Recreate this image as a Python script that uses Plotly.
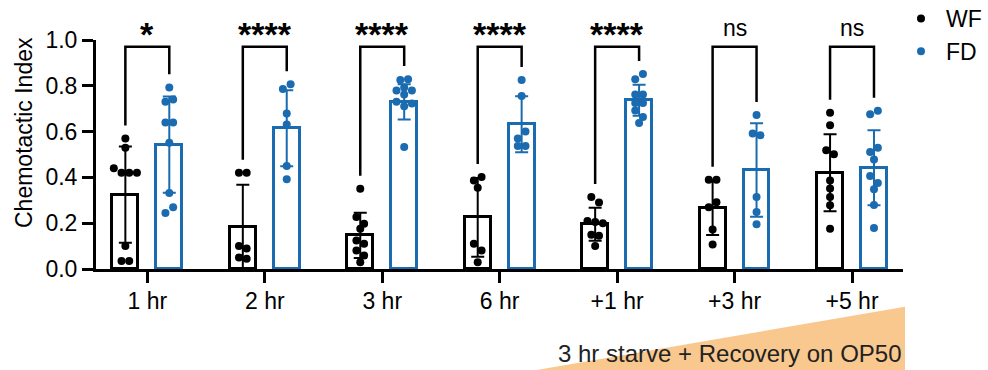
import plotly.graph_objects as go

# ---- data -------------------------------------------------------------
categories = ["1 hr", "2 hr", "3 hr", "6 hr", "+1 hr", "+3 hr", "+5 hr"]
sig_labels = ["*", "****", "****", "****", "****", "ns", "ns"]

wf_mean = [0.325, 0.184, 0.147, 0.225, 0.195, 0.268, 0.420]
wf_sd = [0.210, 0.184, 0.099, 0.172, 0.072, 0.120, 0.168]
fd_mean = [0.543, 0.615, 0.730, 0.632, 0.737, 0.432, 0.442]
fd_sd = [0.210, 0.166, 0.077, 0.122, 0.068, 0.204, 0.164]

wf_points = [
    [0.57, 0.53, 0.44, 0.42, 0.42, 0.42, 0.10, 0.035, 0.035],
    [0.42, 0.42, 0.10, 0.09, 0.05, 0.045],
    [0.35, 0.227, 0.198, 0.176, 0.125, 0.11, 0.081, 0.059, 0.03],
    [0.387, 0.402, 0.355, 0.11, 0.081, 0.03],
    [0.314, 0.29, 0.21, 0.205, 0.20, 0.15, 0.145, 0.10],
    [0.39, 0.39, 0.27, 0.292, 0.172, 0.107],
    [0.682, 0.628, 0.519, 0.501, 0.387, 0.351, 0.314, 0.278, 0.176],
]
fd_points = [
    [0.793, 0.73, 0.74, 0.64, 0.64, 0.551, 0.332, 0.244, 0.27],
    [0.786, 0.807, 0.679, 0.631, 0.45, 0.392],
    [0.825, 0.829, 0.78, 0.793, 0.78, 0.762, 0.73, 0.711, 0.723, 0.533],
    [0.825, 0.755, 0.57, 0.60, 0.537, 0.537],
    [0.829, 0.851, 0.762, 0.762, 0.725, 0.725, 0.692, 0.664, 0.638],
    [0.672, 0.592, 0.584, 0.314, 0.249, 0.195],
    [0.676, 0.691, 0.511, 0.529, 0.478, 0.406, 0.376, 0.348, 0.28, 0.179],
]

ramp_text = "3 hr starve + Recovery on OP50"

# ---- layout constants -------------------------------------------------
W, H = 988, 370
MARGIN = dict(l=96, r=85, t=40, b=101, autoexpand=False)
X_RANGE = [-0.437, 6.434]
Y_RANGE = [0.0, 1.0]
PLOT_W = W - MARGIN["l"] - MARGIN["r"]
PLOT_H = H - MARGIN["t"] - MARGIN["b"]
PX_PER_X = PLOT_W / (X_RANGE[1] - X_RANGE[0])
PX_PER_Y = PLOT_H / (Y_RANGE[1] - Y_RANGE[0])

BLACK = "#000000"
BLUE = "#1a6bb0"
ORANGE = "#f9c88e"
FONT = "Liberation Sans, Arial, sans-serif"
FS = 23

BAR_OFFSET = 0.187
BAR_WIDTH = 0.22
DOT_PX = 7.7
ROW_PX = 7.0


def px_to_paper_x(px):
    return (px - MARGIN["l"]) / PLOT_W


def px_to_paper_y(py):
    return (H - MARGIN["b"] - py) / PLOT_H


def swarm(values, center):
    """Spread points that sit at nearly the same height into centred rows."""
    order = sorted(range(len(values)), key=lambda i: -values[i])
    rows = []
    for i in order:
        if rows and (values[rows[-1][0]] - values[i]) * PX_PER_Y < ROW_PX:
            rows[-1].append(i)
        else:
            rows.append([i])
    xs = [center] * len(values)
    for row in rows:
        row.sort()
        k = len(row)
        for j, i in enumerate(row):
            xs[i] = center + (j - (k - 1) / 2) * DOT_PX / PX_PER_X
    return xs


idx = list(range(len(categories)))
wf_x = [i - BAR_OFFSET for i in idx]
fd_x = [i + BAR_OFFSET for i in idx]

fig = go.Figure()

for name, xs, means, sds, color in [
    ("WF", wf_x, wf_mean, wf_sd, BLACK),
    ("FD", fd_x, fd_mean, fd_sd, BLUE),
]:
    fig.add_trace(go.Bar(
        x=xs, y=means, width=BAR_WIDTH, showlegend=False,
        marker=dict(color="white", line=dict(color=color, width=3)),
        error_y=dict(type="data", array=sds, visible=True,
                     color=color, thickness=2, width=6.5),
        hoverinfo="skip",
    ))

for name, centers, groups, color in [
    ("WF", wf_x, wf_points, BLACK),
    ("FD", fd_x, fd_points, BLUE),
]:
    px_all, py_all = [], []
    for c, vals in zip(centers, groups):
        px_all += swarm(vals, c)
        py_all += vals
    fig.add_trace(go.Scatter(
        x=px_all, y=py_all, mode="markers", name=name,
        marker=dict(color=color, size=8, line=dict(width=0)),
        cliponaxis=False,
    ))

# significance brackets
BRACKET_TOP = 0.97
LEG_GAP = 0.057
shapes = []
for i in idx:
    y_l = max(wf_points[i]) + LEG_GAP
    y_r = max(fd_points[i]) + LEG_GAP
    shapes.append(dict(
        type="path", xref="x", yref="y",
        path=f"M {wf_x[i]},{y_l} L {wf_x[i]},{BRACKET_TOP} "
             f"L {fd_x[i]},{BRACKET_TOP} L {fd_x[i]},{y_r}",
        line=dict(color=BLACK, width=2.5),
    ))

# recovery ramp under the last categories
tri = [(536.7, H), (905.0, 306.7), (905.0, H)]
tri_path = "M " + " L ".join(
    f"{px_to_paper_x(a)},{px_to_paper_y(b)}" for a, b in tri) + " Z"
shapes.append(dict(type="path", xref="paper", yref="paper", path=tri_path,
                   fillcolor=ORANGE, line=dict(width=0), layer="below"))

annotations = []
for i, lab in zip(idx, sig_labels):
    stars = lab != "ns"
    annotations.append(dict(
        x=i, y=1.0, xref="x", yref="y",
        yshift=6 if stars else 12,
        text=f"<b>{lab}</b>" if stars else lab, showarrow=False,
        xanchor="center", yanchor="middle",
        font=dict(family=FONT, size=34 if stars else FS, color=BLACK),
    ))

annotations.append(dict(
    x=px_to_paper_x(24), y=px_to_paper_y(133), xref="paper", yref="paper",
    text="Chemotactic Index", textangle=-90, showarrow=False,
    xanchor="center", yanchor="middle",
    font=dict(family=FONT, size=FS, color=BLACK),
))
annotations.append(dict(
    x=px_to_paper_x(904), y=px_to_paper_y(353), xref="paper", yref="paper",
    text=ramp_text, showarrow=False, xanchor="right", yanchor="middle",
    font=dict(family=FONT, size=24, color="#222222"),
))

fig.update_layout(
    width=W, height=H, margin=MARGIN,
    paper_bgcolor="white", plot_bgcolor="white",
    barmode="overlay", bargap=0,
    font=dict(family=FONT, size=FS, color=BLACK),
    shapes=shapes, annotations=annotations,
    showlegend=True,
    legend=dict(
        x=px_to_paper_x(896), y=px_to_paper_y(-3), xanchor="left", yanchor="top",
        font=dict(family=FONT, size=FS, color=BLACK),
        itemwidth=40, bgcolor="rgba(0,0,0,0)", borderwidth=0,
    ),
)

fig.update_xaxes(
    range=X_RANGE, tickmode="array", tickvals=idx, ticktext=categories,
    showline=True, linecolor=BLACK, linewidth=3,
    ticks="outside", ticklen=11, tickwidth=3, tickcolor=BLACK,
    showgrid=False, zeroline=False, ticklabelstandoff=-2,
    tickfont=dict(family=FONT, size=FS, color=BLACK),
)
fig.update_yaxes(
    range=Y_RANGE, tickmode="array", tickvals=[0, 0.2, 0.4, 0.6, 0.8, 1.0],
    ticktext=["0.0", "0.2", "0.4", "0.6", "0.8", "1.0"],
    showline=True, linecolor=BLACK, linewidth=3,
    ticks="outside", ticklen=11, tickwidth=3, tickcolor=BLACK,
    showgrid=False, zeroline=False,
    tickfont=dict(family=FONT, size=FS, color=BLACK),
)

fig.write_html("out.html")
